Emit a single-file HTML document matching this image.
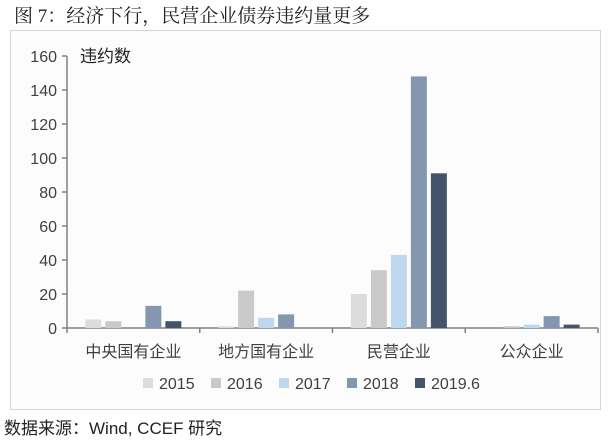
<!DOCTYPE html>
<html><head><meta charset="utf-8">
<style>
body{margin:0;width:612px;height:441px;background:#fff;font-family:"Liberation Sans","Noto Sans CJK SC",sans-serif;overflow:hidden;position:relative}
#title{position:absolute;left:14px;top:1px;font-size:19px;color:#222;font-family:"Liberation Serif","Noto Serif CJK SC",serif}
#frame{position:absolute;left:10px;top:30px;width:591px;height:380px;border:1px solid #d4d4d4;box-sizing:border-box;background:#fdfcfd}
#src{position:absolute;left:4px;top:414px;font-size:17px;color:#222}
svg{position:absolute;left:0;top:0}
</style></head><body>
<div id="title">图 7：经济下行，民营企业债券违约量更多</div>
<div id="frame"></div>
<svg id="chart" width="612" height="441"></svg>
<div id="src">数据来源：Wind, CCEF 研究</div>
<script>
const categories=["中央国有企业","地方国有企业","民营企业","公众企业"];
const seriesNames=["2015","2016","2017","2018","2019.6"];
const s2015=[5,1,20,0];
const s2016=[4,22,34,1];
const s2017=[0,6,43,2];
const s2018=[13,8,148,7];
const s2019=[4,0,91,2];
const yTicks=[0,20,40,60,80,100,120,140,160];
const colors=["#dcdcdc","#c9c9c9","#bdd7ee","#8496b0","#44546a"];
const series=[s2015,s2016,s2017,s2018,s2019];
const svg=document.getElementById('chart');
const NS="http://www.w3.org/2000/svg";
const x0=67,x1=598,yBase=328,yTop=56,yMax=160;
const y=v=>yBase-(v/yMax)*(yBase-yTop);
const gw=(x1-x0)/categories.length;
function mk(t,a){const e=document.createElementNS(NS,t);for(const k in a)e.setAttribute(k,a[k]);svg.appendChild(e);return e;}
let ax=mk('line',{x1:x0,y1:yTop,x2:x0,y2:yBase,stroke:'#808080','stroke-width':1.5});


yTicks.forEach(v=>{
 const tk=mk('line',{x1:x0-5,y1:y(v),x2:x0,y2:y(v),stroke:'#808080','stroke-width':1.5});
 
 
 const t=mk('text',{x:x0-10,y:y(v)+6,'text-anchor':'end','font-size':16,fill:'#404040'});
 t.textContent=v;
 
 
});
const yt=mk('text',{x:80,y:62,'font-size':17,fill:'#222'});
yt.textContent='违约数';


const xa=mk('line',{x1:x0,y1:yBase,x2:x1,y2:yBase,stroke:'#808080','stroke-width':1.5});


for(let i=0;i<=categories.length;i++){
 const tk=mk('line',{x1:x0+i*gw,y1:yBase,x2:x0+i*gw,y2:yBase+5,stroke:'#808080','stroke-width':1.5});
 
 
}
const bw=16,pitch=20;
categories.forEach((c,i)=>{
 const cx=x0+gw*(i+0.5);
 const t=mk('text',{x:cx,y:357,'text-anchor':'middle','font-size':16,fill:'#404040'});
 t.textContent=c;
 
 
 series.forEach((s,j)=>{
  const bx=cx+(j-2)*pitch-bw/2;
  const r=mk('rect',{x:bx,y:y(s[i]),width:bw,height:yBase-y(s[i]),fill:colors[j]});
  
  
 });
});
seriesNames.forEach((n,j)=>{
 const lx=143+j*68;
 const r=mk('rect',{x:lx,y:378,width:10,height:10,fill:colors[j]});
 
 
 const t=mk('text',{x:lx+16,y:389,'font-size':16,fill:'#404040'});
 t.textContent=n;
 
 
});
</script>
</body></html>
